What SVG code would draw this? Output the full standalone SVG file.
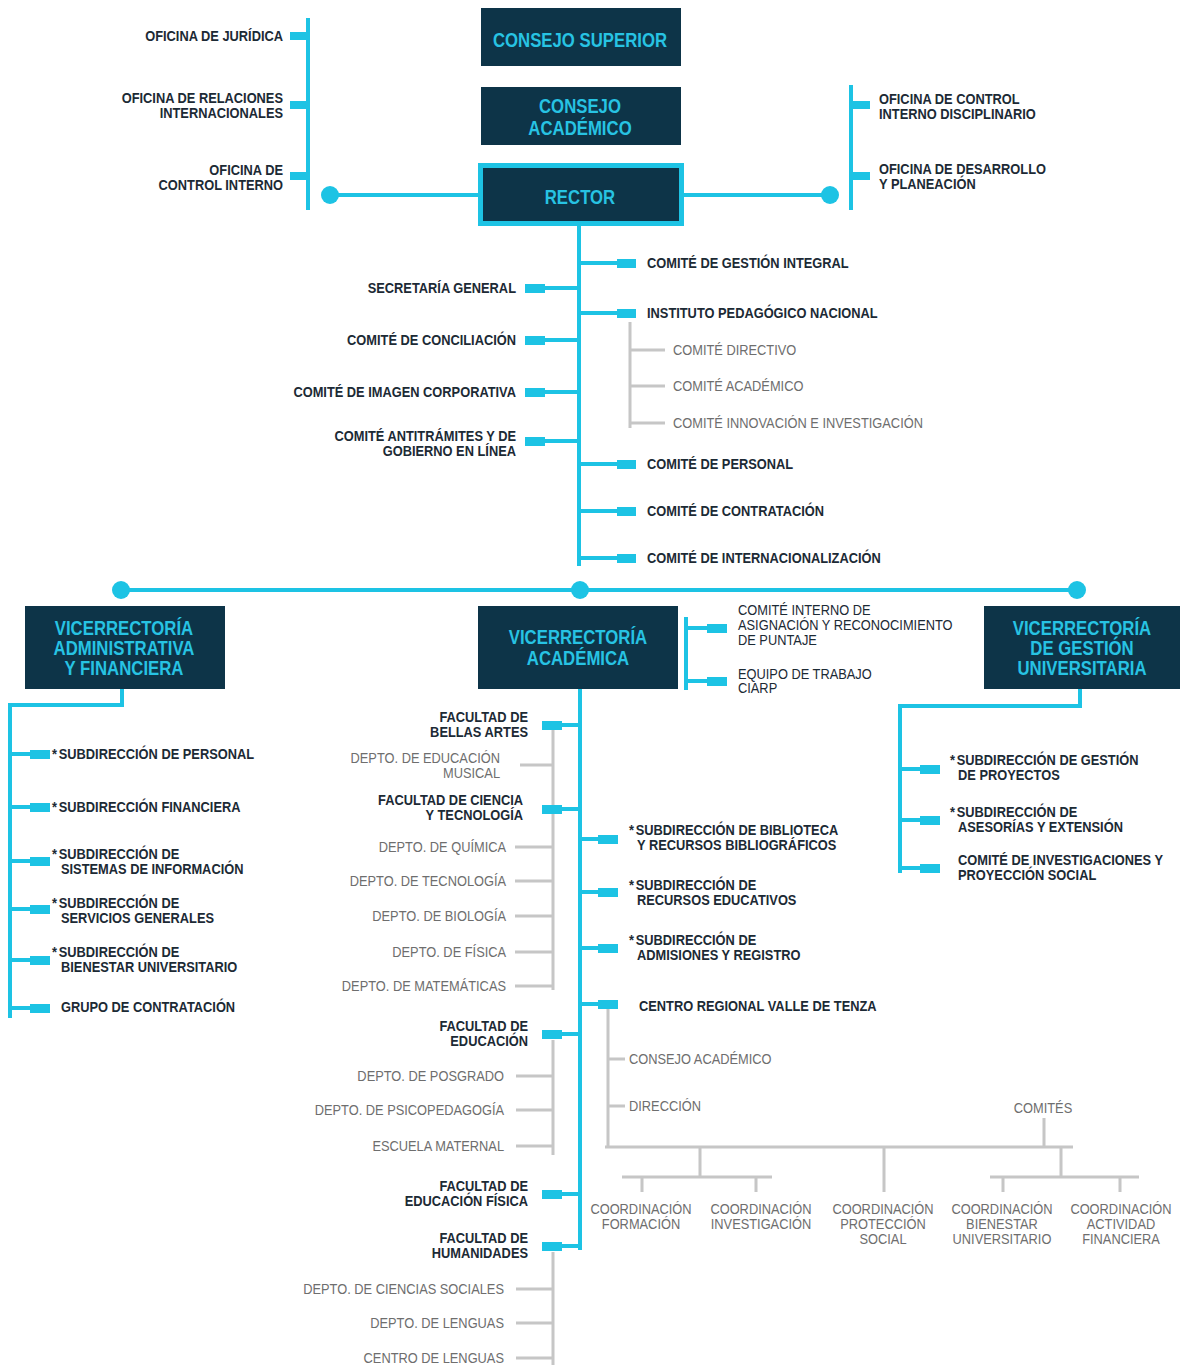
<svg xmlns="http://www.w3.org/2000/svg" width="1180" height="1365" viewBox="0 0 1180 1365">
<style>
text{font-family:"Liberation Sans Narrow","Arial Narrow","Liberation Sans",sans-serif;transform-box:fill-box;transform:scaleX(.885);transform-origin:0% 50%}
.b{font-weight:bold;font-size:14.5px;fill:#1c2a35}
.d{font-size:14.5px;fill:#1c2a35}
.g{font-size:14.5px;fill:#6e6e6e}
.e{text-anchor:end;transform-origin:100% 50%}
.m{text-anchor:middle;transform-origin:50% 50%}
.bx{fill:#0d3448}
.bt{font-weight:bold;font-size:19.5px;fill:#27c3e3;text-anchor:middle;transform:scaleX(.86);transform-origin:50% 50%}
.c{stroke:#1dc3e4;stroke-width:4;fill:none}
.gl{stroke:#c6c6c6;stroke-width:3;fill:none}
.r{fill:#1dc3e4}
</style>
<rect width="1180" height="1365" fill="#ffffff"/>
<g id="connectors">
  <path class="c" d="M308 18V210"/>
  <rect class="r" x="290" y="32" width="18" height="8"/>
  <rect class="r" x="290" y="101" width="18" height="8"/>
  <rect class="r" x="290" y="172" width="18" height="8"/>
  <path class="c" d="M330 195H480M682 195H830"/>
  <circle class="r" cx="330" cy="195" r="9"/>
  <circle class="r" cx="830" cy="195" r="9"/>
  <path class="c" d="M851 85V210"/>
  <rect class="r" x="851" y="101" width="19" height="8"/>
  <rect class="r" x="851" y="172" width="19" height="8"/>
  <path class="c" d="M579 226V566"/>
  <path class="c" d="M579 263H617M579 313H617M579 464H617M579 511H617M579 558H617"/>
  <rect class="r" x="617" y="259" width="19" height="9"/>
  <rect class="r" x="617" y="309" width="19" height="9"/>
  <rect class="r" x="617" y="460" width="19" height="9"/>
  <rect class="r" x="617" y="507" width="19" height="9"/>
  <rect class="r" x="617" y="554" width="19" height="9"/>
  <path class="c" d="M545 288H579M545 340H579M545 392H579M545 441H579"/>
  <rect class="r" x="525" y="284" width="20" height="9"/>
  <rect class="r" x="525" y="336" width="20" height="9"/>
  <rect class="r" x="525" y="388" width="20" height="9"/>
  <rect class="r" x="525" y="437" width="20" height="9"/>
  <path class="gl" d="M630 322V428M630 350H665M630 386H665M630 423H665"/>
  <path class="c" d="M121 590H1077" stroke="#3ccbe8"/>
  <circle class="r" cx="121" cy="590" r="9"/>
  <circle class="r" cx="580" cy="590" r="9"/>
  <circle class="r" cx="1077" cy="590" r="9"/>
  <path class="c" d="M122 689V705H10V1018"/>
  <path class="c" d="M10 754H30M10 807H30M10 861H30M10 909H30M10 960H30M10 1008H30"/>
  <rect class="r" x="30" y="750" width="20" height="9"/>
  <rect class="r" x="30" y="803" width="20" height="9"/>
  <rect class="r" x="30" y="857" width="20" height="9"/>
  <rect class="r" x="30" y="905" width="20" height="9"/>
  <rect class="r" x="30" y="956" width="20" height="9"/>
  <rect class="r" x="30" y="1004" width="20" height="9"/>
  <path class="c" d="M686 617V690M686 628H707M686 681H707"/>
  <rect class="r" x="707" y="624" width="20" height="9"/>
  <rect class="r" x="707" y="677" width="20" height="9"/>
  <path class="gl" d="M553 730V990M520 765H553M515 847H553M515 881H553M515 916H553M515 952H553M515 986H553"/>
  <path class="gl" d="M553 1040V1155M516 1076H553M516 1110H553M516 1146H553"/>
  <path class="gl" d="M553 1252V1365M516 1289H553M516 1323H553M516 1358H553"/>
  <path class="gl" d="M608 1008V1147M608 1059H625M608 1106H625M605 1147H1073M1044 1118V1147"/>
  <path class="gl" d="M700 1147V1177M622 1177H772M642 1177V1192M756 1177V1192M884 1147V1192"/>
  <path class="gl" d="M1061 1147V1177M990 1177H1139M1003 1177V1192M1120 1177V1192"/>
  <path class="c" d="M580 689V1250"/>
  <path class="c" d="M562 725H580M562 809H580M562 1034H580M562 1194H580M562 1246H580"/>
  <rect class="r" x="542" y="721" width="20" height="9"/>
  <rect class="r" x="542" y="805" width="20" height="9"/>
  <rect class="r" x="542" y="1030" width="20" height="9"/>
  <rect class="r" x="542" y="1190" width="20" height="9"/>
  <rect class="r" x="542" y="1242" width="20" height="9"/>
  <path class="c" d="M580 839H598M580 892H598M580 948H598M580 1004H598"/>
  <rect class="r" x="598" y="835" width="20" height="9"/>
  <rect class="r" x="598" y="888" width="20" height="9"/>
  <rect class="r" x="598" y="944" width="20" height="9"/>
  <rect class="r" x="598" y="1000" width="20" height="9"/>
  <path class="c" d="M1080 689V706H900V873"/>
  <path class="c" d="M900 769H920M900 820H920M900 868H920"/>
  <rect class="r" x="920" y="765" width="20" height="9"/>
  <rect class="r" x="920" y="816" width="20" height="9"/>
  <rect class="r" x="920" y="864" width="20" height="9"/>
</g>

<g id="consejo-superior"><rect class="bx" x="481" y="8" width="200" height="58"/><text class="bt" x="580" y="47">CONSEJO SUPERIOR</text></g>
<g id="consejo-academico"><rect class="bx" x="481" y="87" width="200" height="58"/><text class="bt" x="580" y="113">CONSEJO</text><text class="bt" x="580" y="135">ACADÉMICO</text></g>
<g id="rector"><rect class="bx" x="480.5" y="165.5" width="201" height="58" stroke="#1dc3e4" stroke-width="5"/><text class="bt" x="580" y="204">RECTOR</text></g>

<g id="oficina-juridica"><text class="b e" x="283" y="41">OFICINA DE JURÍDICA</text></g>
<g id="oficina-relaciones"><text class="b e" x="283" y="103">OFICINA DE RELACIONES</text><text class="b e" x="283" y="118">INTERNACIONALES</text></g>
<g id="oficina-control-interno"><text class="b e" x="283" y="175">OFICINA DE</text><text class="b e" x="283" y="190">CONTROL INTERNO</text></g>
<g id="oficina-disciplinario"><text class="b" x="879" y="104">OFICINA DE CONTROL</text><text class="b" x="879" y="119">INTERNO DISCIPLINARIO</text></g>
<g id="oficina-desarrollo"><text class="b" x="879" y="174">OFICINA DE DESARROLLO</text><text class="b" x="879" y="189">Y PLANEACIÓN</text></g>

<g id="comite-gestion-integral"><text class="b" x="647" y="268">COMITÉ DE GESTIÓN INTEGRAL</text></g>
<g id="instituto-pedagogico"><text class="b" x="647" y="318">INSTITUTO PEDAGÓGICO NACIONAL</text></g>
<g id="ipn-directivo"><text class="g" x="673" y="355">COMITÉ DIRECTIVO</text></g>
<g id="ipn-academico"><text class="g" x="673" y="391">COMITÉ ACADÉMICO</text></g>
<g id="ipn-innovacion"><text class="g" x="673" y="428">COMITÉ INNOVACIÓN E INVESTIGACIÓN</text></g>
<g id="comite-personal"><text class="b" x="647" y="469">COMITÉ DE PERSONAL</text></g>
<g id="comite-contratacion"><text class="b" x="647" y="516">COMITÉ DE CONTRATACIÓN</text></g>
<g id="comite-internacionalizacion"><text class="b" x="647" y="563">COMITÉ DE INTERNACIONALIZACIÓN</text></g>
<g id="secretaria-general"><text class="b e" x="516" y="293">SECRETARÍA GENERAL</text></g>
<g id="comite-conciliacion"><text class="b e" x="516" y="345">COMITÉ DE CONCILIACIÓN</text></g>
<g id="comite-imagen"><text class="b e" x="516" y="397">COMITÉ DE IMAGEN CORPORATIVA</text></g>
<g id="comite-antitramites"><text class="b e" x="516" y="441">COMITÉ ANTITRÁMITES Y DE</text><text class="b e" x="516" y="456">GOBIERNO EN LÍNEA</text></g>

<g id="vice-administrativa"><rect class="bx" x="25" y="606" width="200" height="83"/><text class="bt" x="124" y="635">VICERRECTORÍA</text><text class="bt" x="124" y="655">ADMINISTRATIVA</text><text class="bt" x="124" y="675">Y FINANCIERA</text></g>
<g id="vice-academica"><rect class="bx" x="478" y="606" width="200" height="83"/><text class="bt" x="578" y="644">VICERRECTORÍA</text><text class="bt" x="578" y="665">ACADÉMICA</text></g>
<g id="vice-gestion"><rect class="bx" x="984" y="606" width="196" height="83"/><text class="bt" x="1082" y="635">VICERRECTORÍA</text><text class="bt" x="1082" y="655">DE GESTIÓN</text><text class="bt" x="1082" y="675">UNIVERSITARIA</text></g>

<g id="sub-personal"><text class="b" x="52" y="759">*<tspan dx="2">SUBDIRECCIÓN DE PERSONAL</tspan></text></g>
<g id="sub-financiera"><text class="b" x="52" y="812">*<tspan dx="2">SUBDIRECCIÓN FINANCIERA</tspan></text></g>
<g id="sub-sistemas"><text class="b" x="52" y="859">*<tspan dx="2">SUBDIRECCIÓN DE</tspan></text><text class="b" x="61" y="874">SISTEMAS DE INFORMACIÓN</text></g>
<g id="sub-servicios"><text class="b" x="52" y="908">*<tspan dx="2">SUBDIRECCIÓN DE</tspan></text><text class="b" x="61" y="923">SERVICIOS GENERALES</text></g>
<g id="sub-bienestar"><text class="b" x="52" y="957">*<tspan dx="2">SUBDIRECCIÓN DE</tspan></text><text class="b" x="61" y="972">BIENESTAR UNIVERSITARIO</text></g>
<g id="grupo-contratacion"><text class="b" x="61" y="1012">GRUPO DE CONTRATACIÓN</text></g>

<g id="comite-ciarp"><text class="d" x="738" y="615">COMITÉ INTERNO DE</text><text class="d" x="738" y="630">ASIGNACIÓN Y RECONOCIMIENTO</text><text class="d" x="738" y="645">DE PUNTAJE</text></g>
<g id="equipo-ciarp"><text class="d" x="738" y="679">EQUIPO DE TRABAJO</text><text class="d" x="738" y="693">CIARP</text></g>

<g id="fac-bellas-artes"><text class="b e" x="528" y="722">FACULTAD DE</text><text class="b e" x="528" y="737">BELLAS ARTES</text></g>
<g id="depto-musical"><text class="g e" x="500" y="763">DEPTO. DE EDUCACIÓN</text><text class="g e" x="500" y="778">MUSICAL</text></g>
<g id="fac-ciencia"><text class="b e" x="523" y="805">FACULTAD DE CIENCIA</text><text class="b e" x="523" y="820">Y TECNOLOGÍA</text></g>
<g id="depto-quimica"><text class="g e" x="506" y="852">DEPTO. DE QUÍMICA</text></g>
<g id="depto-tecnologia"><text class="g e" x="506" y="886">DEPTO. DE TECNOLOGÍA</text></g>
<g id="depto-biologia"><text class="g e" x="506" y="921">DEPTO. DE BIOLOGÍA</text></g>
<g id="depto-fisica"><text class="g e" x="506" y="957">DEPTO. DE FÍSICA</text></g>
<g id="depto-matematicas"><text class="g e" x="506" y="991">DEPTO. DE MATEMÁTICAS</text></g>
<g id="fac-educacion"><text class="b e" x="528" y="1031">FACULTAD DE</text><text class="b e" x="528" y="1046">EDUCACIÓN</text></g>
<g id="depto-posgrado"><text class="g e" x="504" y="1081">DEPTO. DE POSGRADO</text></g>
<g id="depto-psicopedagogia"><text class="g e" x="504" y="1115">DEPTO. DE PSICOPEDAGOGÍA</text></g>
<g id="escuela-maternal"><text class="g e" x="504" y="1151">ESCUELA MATERNAL</text></g>
<g id="fac-educacion-fisica"><text class="b e" x="528" y="1191">FACULTAD DE</text><text class="b e" x="528" y="1206">EDUCACIÓN FÍSICA</text></g>
<g id="fac-humanidades"><text class="b e" x="528" y="1243">FACULTAD DE</text><text class="b e" x="528" y="1258">HUMANIDADES</text></g>
<g id="depto-sociales"><text class="g e" x="504" y="1294">DEPTO. DE CIENCIAS SOCIALES</text></g>
<g id="depto-lenguas"><text class="g e" x="504" y="1328">DEPTO. DE LENGUAS</text></g>
<g id="centro-lenguas"><text class="g e" x="504" y="1363">CENTRO DE LENGUAS</text></g>

<g id="sub-biblioteca"><text class="b" x="629" y="835">*<tspan dx="2">SUBDIRECCIÓN DE BIBLIOTECA</tspan></text><text class="b" x="637" y="850">Y RECURSOS BIBLIOGRÁFICOS</text></g>
<g id="sub-recursos"><text class="b" x="629" y="890">*<tspan dx="2">SUBDIRECCIÓN DE</tspan></text><text class="b" x="637" y="905">RECURSOS EDUCATIVOS</text></g>
<g id="sub-admisiones"><text class="b" x="629" y="945">*<tspan dx="2">SUBDIRECCIÓN DE</tspan></text><text class="b" x="637" y="960">ADMISIONES Y REGISTRO</text></g>
<g id="centro-regional"><text class="b" x="639" y="1011">CENTRO REGIONAL VALLE DE TENZA</text></g>
<g id="cr-consejo"><text class="g" x="629" y="1064">CONSEJO ACADÉMICO</text></g>
<g id="cr-direccion"><text class="g" x="629" y="1111">DIRECCIÓN</text></g>
<g id="cr-comites"><text class="g m" x="1043" y="1113">COMITÉS</text></g>
<g id="coord-formacion"><text class="g m" x="641" y="1214">COORDINACIÓN</text><text class="g m" x="641" y="1229">FORMACIÓN</text></g>
<g id="coord-investigacion"><text class="g m" x="761" y="1214">COORDINACIÓN</text><text class="g m" x="761" y="1229">INVESTIGACIÓN</text></g>
<g id="coord-proteccion"><text class="g m" x="883" y="1214">COORDINACIÓN</text><text class="g m" x="883" y="1229">PROTECCIÓN</text><text class="g m" x="883" y="1244">SOCIAL</text></g>
<g id="coord-bienestar"><text class="g m" x="1002" y="1214">COORDINACIÓN</text><text class="g m" x="1002" y="1229">BIENESTAR</text><text class="g m" x="1002" y="1244">UNIVERSITARIO</text></g>
<g id="coord-financiera"><text class="g m" x="1121" y="1214">COORDINACIÓN</text><text class="g m" x="1121" y="1229">ACTIVIDAD</text><text class="g m" x="1121" y="1244">FINANCIERA</text></g>

<g id="sub-gestion-proyectos"><text class="b" x="950" y="765">*<tspan dx="2">SUBDIRECCIÓN DE GESTIÓN</tspan></text><text class="b" x="958" y="780">DE PROYECTOS</text></g>
<g id="sub-asesorias"><text class="b" x="950" y="817">*<tspan dx="2">SUBDIRECCIÓN DE</tspan></text><text class="b" x="958" y="832">ASESORÍAS Y EXTENSIÓN</text></g>
<g id="comite-investigaciones"><text class="b" x="958" y="865">COMITÉ DE INVESTIGACIONES Y</text><text class="b" x="958" y="880">PROYECCIÓN SOCIAL</text></g>
</svg>
